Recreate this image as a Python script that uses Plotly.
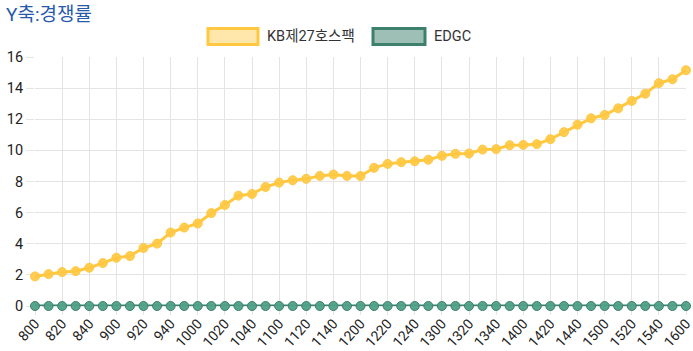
import plotly.graph_objects as go

times = ["800", "810", "820", "830", "840", "850",
         "900", "910", "920", "930", "940", "950",
         "1000", "1010", "1020", "1030", "1040", "1050",
         "1100", "1110", "1120", "1130", "1140", "1150",
         "1200", "1210", "1220", "1230", "1240", "1250",
         "1300", "1310", "1320", "1330", "1340", "1350",
         "1400", "1410", "1420", "1430", "1440", "1450",
         "1500", "1510", "1520", "1530", "1540", "1550",
         "1600"]

kb_values = [1.90, 2.05, 2.18, 2.24, 2.46, 2.76, 3.10, 3.21, 3.73, 4.01, 4.72, 5.04,
             5.30, 5.97, 6.49, 7.09, 7.20, 7.65, 7.93, 8.08, 8.17, 8.36, 8.45, 8.36,
             8.35, 8.88, 9.13, 9.24, 9.30, 9.40, 9.65, 9.78, 9.80, 10.05, 10.08, 10.33,
             10.35, 10.40, 10.72, 11.17, 11.65, 12.06, 12.27, 12.70, 13.18, 13.64, 14.32,
             14.57, 15.15]

edgc_values = [0] * len(times)

y_ticks = [0, 2, 4, 6, 8, 10, 12, 14, 16]
x_tick_labels = times[::2]

series_names = ["KB제27호스팩", "EDGC"]

FONT = "Roboto, 'Noto Sans CJK KR', sans-serif"
GRID = "rgb(228,228,228)"
YELLOW = "rgb(255,200,64)"
YELLOW_FILL = "rgba(255,205,86,0.5)"
GREEN = "rgb(61,128,108)"
GREEN_FILL = "rgba(61,128,108,0.5)"

fig = go.Figure()
fig.add_trace(go.Scatter(
    x=times, y=kb_values, mode="lines+markers", name=series_names[0],
    line=dict(color=YELLOW, width=3),
    marker=dict(size=9, color="rgba(255,200,64,0.9)", line=dict(color=YELLOW, width=1)),
    cliponaxis=False, showlegend=False))
fig.add_trace(go.Scatter(
    x=times, y=edgc_values, mode="lines+markers", name=series_names[1],
    line=dict(color=GREEN, width=3),
    marker=dict(size=9, color="rgba(78,160,136,0.95)", line=dict(color=GREEN, width=1)),
    cliponaxis=False, showlegend=False))

fig.update_layout(
    width=693, height=351,
    margin=dict(l=35, r=7, t=57, b=45),
    paper_bgcolor="white", plot_bgcolor="white",
    font=dict(family=FONT, size=14, color="#333"),
    showlegend=False,
)
fig.update_xaxes(
    type="category", categoryorder="array", categoryarray=times,
    tickvals=x_tick_labels, ticktext=x_tick_labels,
    tickangle=-48, showgrid=True, gridcolor=GRID, gridwidth=1,
    ticks="outside", ticklen=8, tickcolor=GRID, ticklabelstandoff=-5,
    showline=False, zeroline=False, automargin=False, layer="below traces",
    tickfont=dict(size=14, color="#222"),
    range=[0, len(times) - 1],
)
fig.update_yaxes(
    range=[0, 16], tickvals=y_ticks,
    showgrid=True, gridcolor=GRID, gridwidth=1,
    zeroline=True, zerolinecolor=GRID, zerolinewidth=1,
    ticks="outside", ticklen=8, tickcolor=GRID,
    showline=False, automargin=False, layer="below traces",
    tickfont=dict(size=14.5, color="#222"),
)

W = 651.0
H = 249.0
def px_x(px):
    return (px - 35) / W
def px_y(py):
    return (306 - py) / H

# Title
fig.add_annotation(text="Y축:경쟁률", xref="paper", yref="paper", x=px_x(4), y=px_y(15),
                   xanchor="left", yanchor="middle", showarrow=False,
                   font=dict(family=FONT, size=19, color="rgb(40,90,170)"))

# Legend drawn as boxes + text (Chart.js style)
legend_items = [
    (series_names[0], 208, 258, YELLOW, YELLOW_FILL, 265),
    (series_names[1], 373, 425, GREEN, GREEN_FILL, 432),
]
for name, x0, x1, lc, fc, tx in legend_items:
    fig.add_shape(type="rect", xref="paper", yref="paper",
                  x0=px_x(x0), x1=px_x(x1), y0=px_y(44.5), y1=px_y(28.5),
                  line=dict(color=lc, width=3), fillcolor=fc)
    fig.add_annotation(text=name, xref="paper", yref="paper", x=px_x(tx), y=px_y(36.5),
                       xanchor="left", yanchor="middle", showarrow=False,
                       font=dict(family=FONT, size=14.5, color="#333"))

fig.write_html("out.html")
